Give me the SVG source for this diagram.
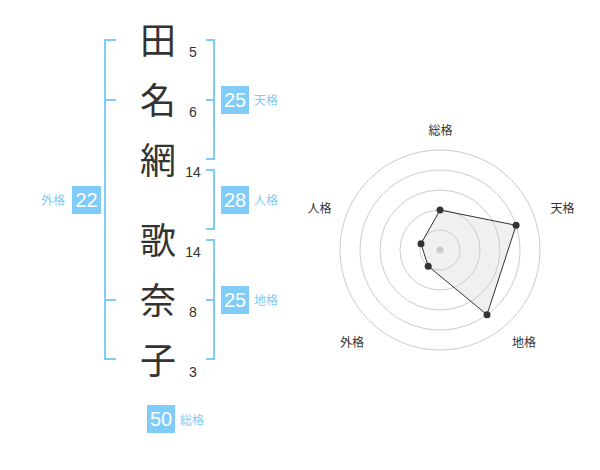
<svg xmlns="http://www.w3.org/2000/svg" width="600" height="470" viewBox="0 0 600 470">
<style>
.ch{font-family:"Noto Sans CJK JP","Noto Sans",sans-serif;font-size:36px;fill:#333;text-anchor:middle}
.num{font-family:"Liberation Sans",Arial,sans-serif;font-size:14px;fill:#333;text-anchor:middle}
.br{fill:none;stroke:#80ccf8;stroke-width:2}
.box{fill:#80ccf8}
.bn{font-family:"Liberation Sans",Arial,sans-serif;font-size:20px;fill:#fff;text-anchor:middle}
.bl{font-family:"Noto Sans CJK JP",sans-serif;font-size:12px;fill:#80ccf8}
.rl{font-family:"Noto Sans CJK JP",sans-serif;font-size:12px;fill:#333;text-anchor:middle}
.ring{fill:none;stroke:#ccc;stroke-width:1}
.pt{fill:#333}
</style>
<rect width="600" height="470" fill="#fff"/>
<g id="chars">
<text class="ch" x="158" y="54">田</text>
<text class="ch" x="158" y="114">名</text>
<text class="ch" x="158" y="174">網</text>
<text class="ch" x="158" y="254">歌</text>
<text class="ch" x="158" y="314">奈</text>
<text class="ch" x="158" y="374">子</text>
</g>
<g id="strokes">
<text class="num" x="193" y="57">5</text>
<text class="num" x="193" y="117">6</text>
<text class="num" x="193" y="177">14</text>
<text class="num" x="193" y="257">14</text>
<text class="num" x="193" y="317">8</text>
<text class="num" x="193" y="377">3</text>
</g>
<g id="connectors">
<path class="br" d="M116,40H105V359H116M105,100H116M105,300H116"/>
<path class="br" d="M206,40H214V159H206M206,100H214"/>
<path class="br" d="M206,170H214V229H206"/>
<path class="br" d="M206,240H214V359H206M206,300H214"/>
</g>
<g id="gaikaku">
<rect class="box" x="72" y="186" width="29" height="28"/>
<text class="bn" x="86.5" y="207">22</text>
<text class="bl" x="41" y="204.5">外格</text>
</g>
<g id="tenkaku">
<rect class="box" x="221" y="86" width="28" height="28"/>
<text class="bn" x="235" y="107">25</text>
<text class="bl" x="254" y="104.5">天格</text>
</g>
<g id="jinkaku">
<rect class="box" x="221" y="186" width="28" height="28"/>
<text class="bn" x="235" y="207">28</text>
<text class="bl" x="254" y="204.5">人格</text>
</g>
<g id="chikaku">
<rect class="box" x="221" y="286" width="28" height="28"/>
<text class="bn" x="235" y="307">25</text>
<text class="bl" x="254" y="304.5">地格</text>
</g>
<g id="soukaku">
<rect class="box" x="147" y="405" width="28" height="28"/>
<text class="bn" x="161" y="426">50</text>
<text class="bl" x="180" y="424.5">総格</text>
</g>
<g id="radar">
<circle class="ring" cx="440" cy="250" r="20"/>
<circle class="ring" cx="440" cy="250" r="40"/>
<circle class="ring" cx="440" cy="250" r="60"/>
<circle class="ring" cx="440" cy="250" r="80"/>
<circle class="ring" cx="440" cy="250" r="100"/>
<circle cx="440" cy="250" r="3.5" fill="#ccc"/>
<polygon points="440,210 516.1,225.3 487,314.7 428.2,266.2 421,243.8" fill="#ccc" fill-opacity="0.3" stroke="#333" stroke-width="1"/>
<circle class="pt" cx="440" cy="210" r="3.5"/>
<circle class="pt" cx="516.1" cy="225.3" r="3.5"/>
<circle class="pt" cx="487" cy="314.7" r="3.5"/>
<circle class="pt" cx="428.2" cy="266.2" r="3.5"/>
<circle class="pt" cx="421" cy="243.8" r="3.5"/>
<text class="rl" x="440.5" y="135">総格</text>
<text class="rl" x="562.5" y="213">天格</text>
<text class="rl" x="319.5" y="213">人格</text>
<text class="rl" x="352" y="346.5">外格</text>
<text class="rl" x="524" y="346.5">地格</text>
</g>
</svg>
